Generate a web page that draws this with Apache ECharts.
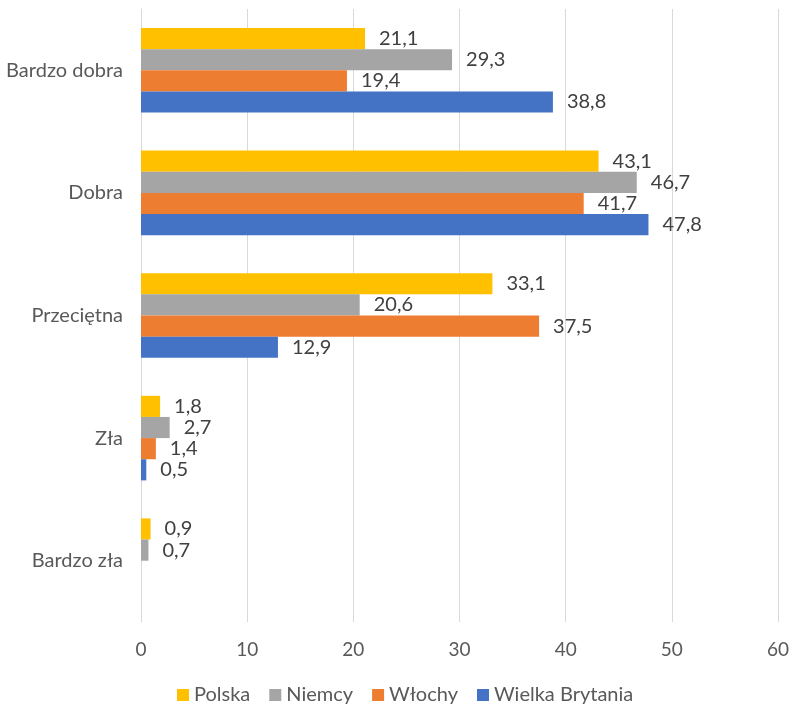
<!DOCTYPE html>
<html>
<head>
<meta charset="utf-8">
<script src="https://cdn.jsdelivr.net/npm/echarts@6/dist/echarts.min.js"></script>
<style>
  html, body { margin: 0; padding: 0; background: #fff; }
  #chart { width: 792px; height: 705px; }
</style>
</head>
<body>
<div id="chart"></div>
<script>
var categories = ['Bardzo dobra', 'Dobra', 'Przeciętna', 'Zła', 'Bardzo zła']
var polska = [21.1, 43.1, 33.1, 1.8, 0.9]
var niemcy = [29.3, 46.7, 20.6, 2.7, 0.7]
var wlochy = [19.4, 41.7, 37.5, 1.4, null]
var wielkaBrytania = [38.8, 47.8, 12.9, 0.5, null]
var xTicks = [0, 10, 20, 30, 40, 50, 60]

var font = 'Lato, Noto Sans, sans-serif'

function makeSeries(name, color, data) {
  return {
    name: name,
    type: 'bar',
    barGap: 0,
    barCategoryGap: '31%',
    itemStyle: { color: color },
    label: {
      show: true,
      position: 'right',
      distance: 14,
      color: '#404040',
      fontSize: 20,
      fontFamily: font,
      formatter: function(p) {
        return String(p.value).replace('.', ',')
      }
    },
    data: data
  }
}

var chart = echarts.init(document.getElementById('chart'))
chart.setOption({
  animation: false,
  grid: { left: 141, right: 13, top: 9, bottom: 83 },
  legend: {
    top: 680,
    left: 172,
    itemWidth: 12,
    itemHeight: 12,
    itemGap: 19,
    icon: 'rect',
    textStyle: { color: '#595959', fontSize: 20, fontFamily: font },
    data: ['Polska', 'Niemcy', 'Włochy', 'Wielka Brytania']
  },
  xAxis: {
    type: 'value',
    min: xTicks[0],
    max: xTicks[xTicks.length - 1],
    interval: 10,
    axisLine: { show: false },
    axisTick: { show: false },
    splitLine: { lineStyle: { color: '#d9d9d9', width: 1 } },
    axisLabel: { color: '#595959', fontSize: 19, fontFamily: font, margin: 18 }
  },
  yAxis: {
    type: 'category',
    inverse: true,
    data: categories,
    axisLine: { show: true, lineStyle: { color: '#d9d9d9' } },
    axisTick: { show: false },
    axisLabel: { color: '#595959', fontSize: 20, fontFamily: font, margin: 18 }
  },
  series: [
    makeSeries('Polska', '#FFC000', polska),
    makeSeries('Niemcy', '#A5A5A5', niemcy),
    makeSeries('Włochy', '#ED7D31', wlochy),
    makeSeries('Wielka Brytania', '#4472C4', wielkaBrytania)
  ]
})
</script>
</body>
</html>
